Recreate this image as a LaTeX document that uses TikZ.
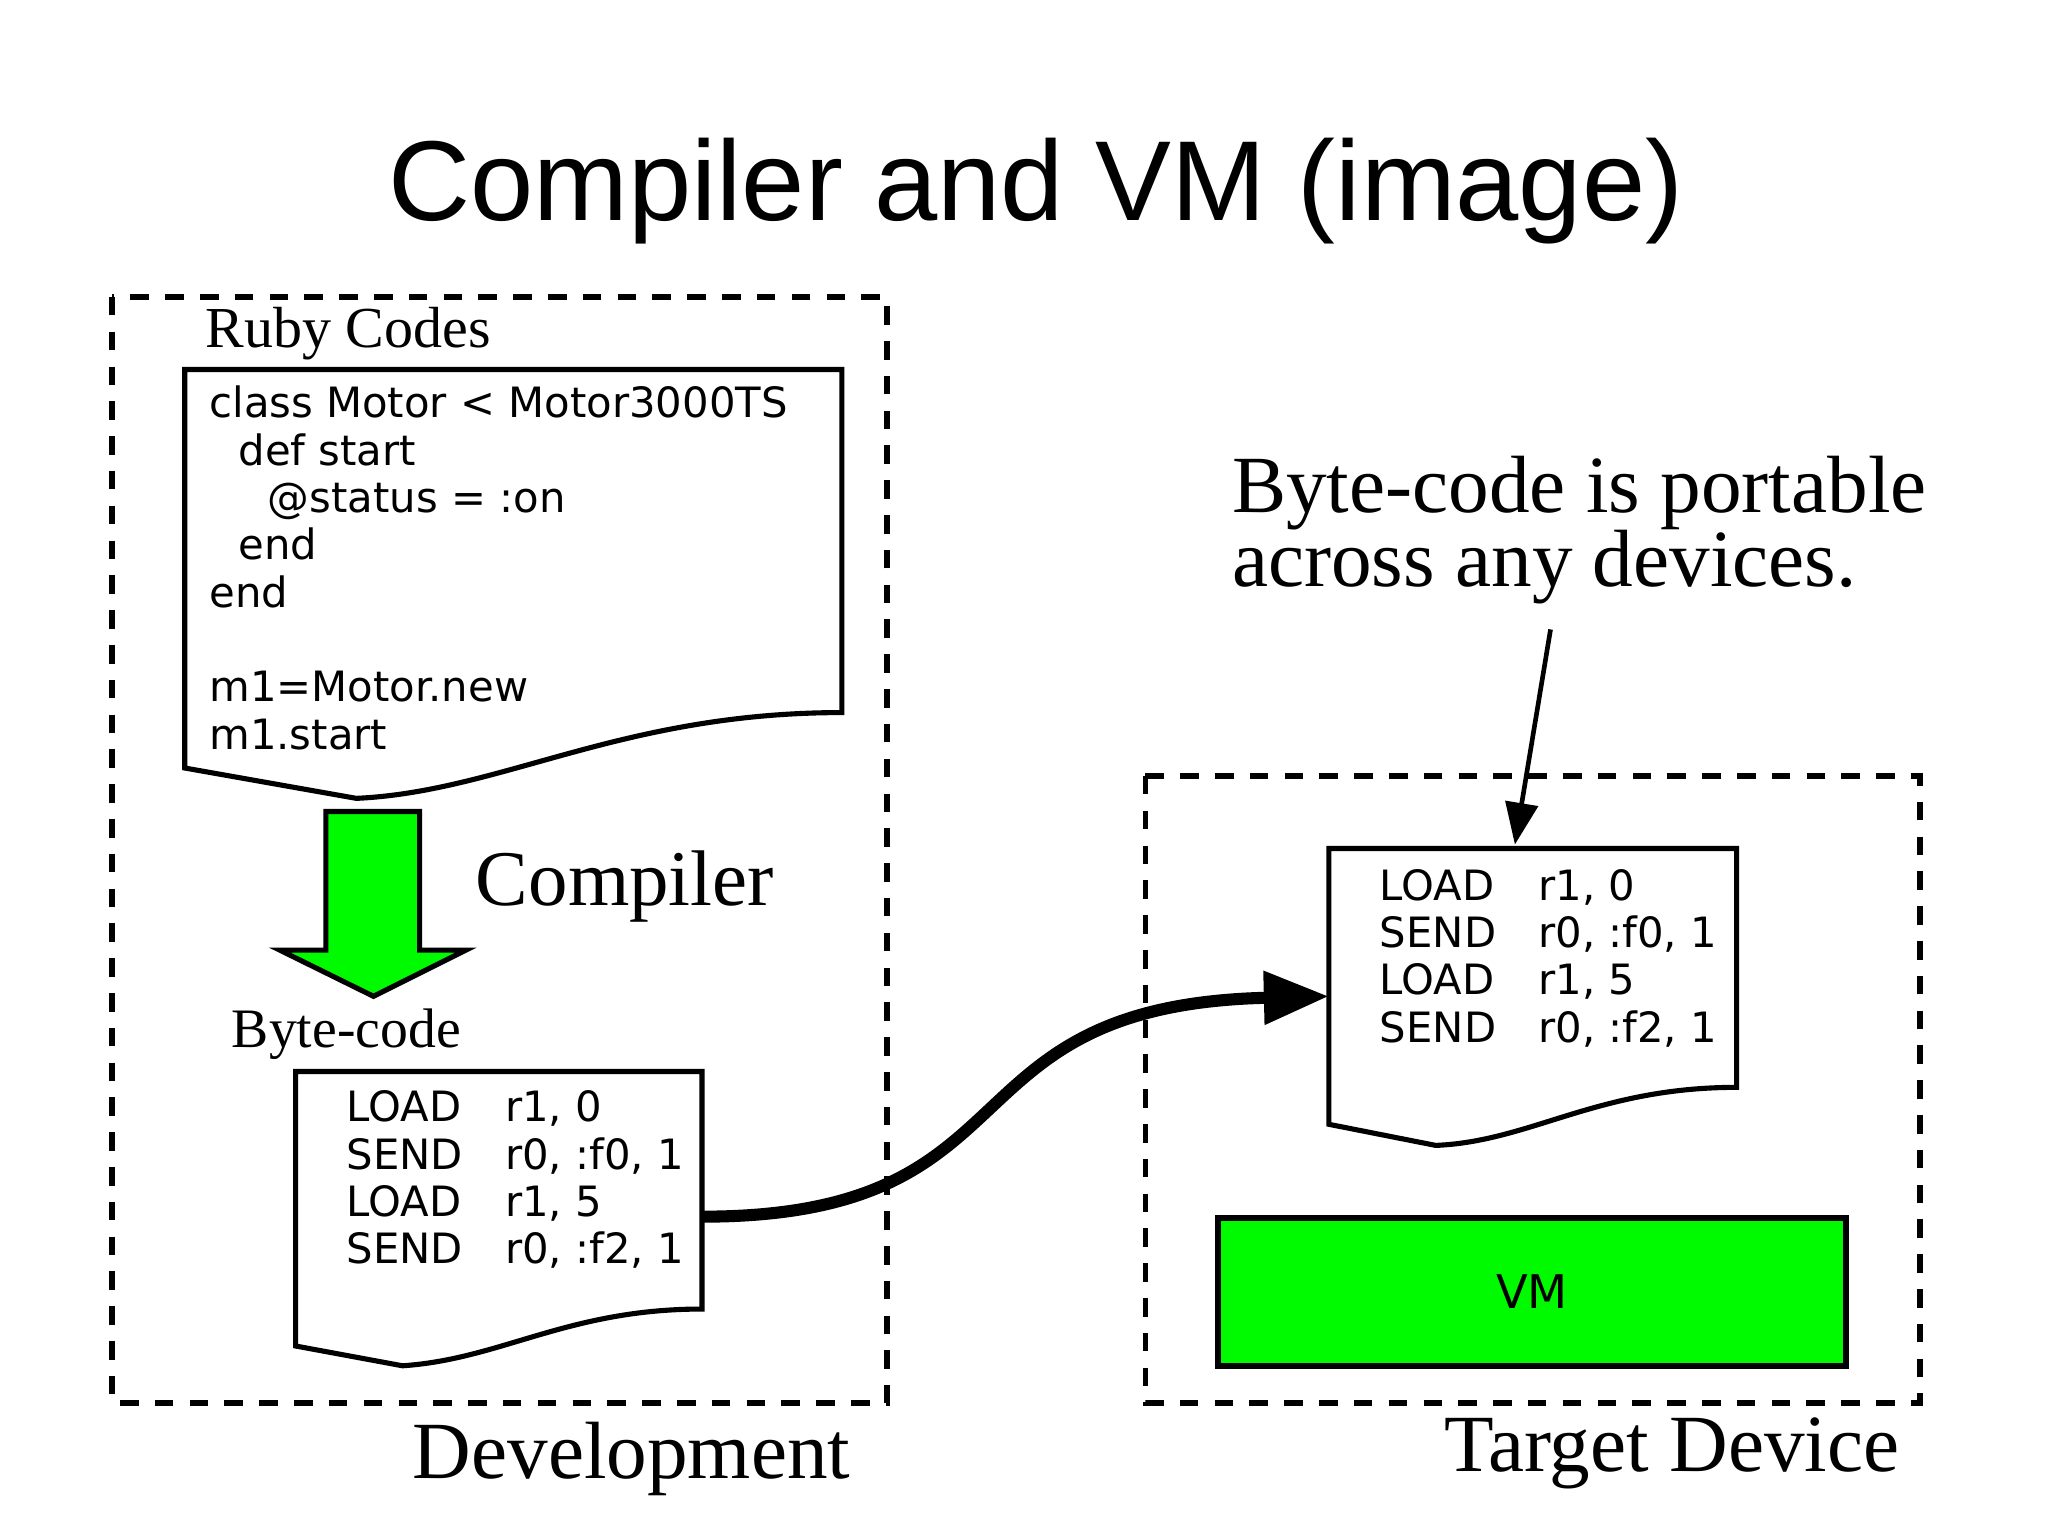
\documentclass[tikz,border=0pt]{standalone}
\usepackage{fontspec}
\setmainfont{Liberation Serif}
\newfontfamily\sansf{Liberation Sans}
\newfontfamily\codef{DejaVu Sans}
\usetikzlibrary{arrows.meta}
\definecolor{vmgreen}{RGB}{0,250,0}
\begin{document}
\begin{tikzpicture}[x=0.01cm,y=-0.01cm,
  dbox/.style={line width=1.2pt,dash pattern=on 4pt off 3.5pt},
  doc/.style={line width=1.1pt,fill=white},
  code/.style={font=\codef\fontsize{9}{10.2}\selectfont,align=left,anchor=north west,inner sep=0},
  lab/.style={font=\fontsize{17.5}{16}\selectfont,inner sep=0}]
\useasboundingbox (0,0) rectangle (1552,1164);
\node[font=\sansf\fontsize{24.5}{28}\selectfont] (title) at (785,145) {Compiler and VM (image)};
% boxes
\draw[dbox] (85,225) rectangle (672,1063);
\draw[dbox] (868,588) rectangle (1455,1063);
\node[lab,anchor=north east] (dev) at (645,1077) {Development};
\node[lab,anchor=north east] (tgt) at (1440,1074) {Target Device};
% ruby doc
\node[font=\fontsize{12.5}{13}\selectfont,anchor=west,inner sep=0] (rl) at (155,253) {Ruby Codes};
\draw[doc] (140,280) -- (638,280) -- (638,540) .. controls (470,540) and (380,600) .. (270,605) -- (140,582) -- cycle;
\node[code] (ruby) at (158,292) {class Motor < Motor3000TS\\
\hspace*{0.7em}def start\\
\hspace*{1.4em}@status = :on\\
\hspace*{0.7em}end\\
end\\[10.2pt]
m1=Motor.new\\
m1.start};
% compiler arrow
\draw[line width=1.1pt,fill=vmgreen] (247,615) -- (318,615) -- (318,720) -- (353,720) -- (283,755) -- (212,720) -- (247,720) -- cycle;
\node[lab,anchor=west,font=\fontsize{17}{18}\selectfont] (comp) at (360,672) {Compiler};
% bytecode doc left
\node[font=\fontsize{12}{13}\selectfont,anchor=west,inner sep=0] (bl) at (175,784) {Byte-code};
\draw[doc] (224,812) -- (532,812) -- (532,992) .. controls (430,992) and (380,1030) .. (305,1035) -- (224,1020) -- cycle;
\node[code] (bc1) at (262,826) {LOAD\\SEND\\LOAD\\SEND};
\node[code] (bc1b) at (382,826) {r1, 0\\r0, :f0, 1\\r1, 5\\r0, :f2, 1};
\coordinate (out) at (532,922);
% right doc
\draw[doc] (1007,643) -- (1316,643) -- (1316,824) .. controls (1210,824) and (1160,865) .. (1088,868) -- (1007,852) -- cycle;
\node[code] (bc2) at (1045,658) {LOAD\\SEND\\LOAD\\SEND};
\node[code] (bc2b) at (1165,658) {r1, 0\\r0, :f0, 1\\r1, 5\\r0, :f2, 1};
\coordinate (in) at (1007,755);
\coordinate (dtop) at (1148,640);
\draw[line width=2.6pt,-{Triangle[length=14pt,width=11pt]}] (out) .. controls (790,922) and (710,762) .. (in);
% note
\node[lab,anchor=north west,align=left] (note) at (933,345) {Byte-code is portable\\across any devices.};
\coordinate (ns) at (1175,477);
\draw[line width=1pt,-{Triangle[length=9pt,width=7pt]}] (ns) -- (dtop);
% VM
\draw[line width=1.3pt,fill=vmgreen] (923,923) rectangle (1399,1035);
\node[font=\codef\fontsize{10}{12}\selectfont] (vm) at (1161,979) {VM};
\end{tikzpicture}
\end{document}
